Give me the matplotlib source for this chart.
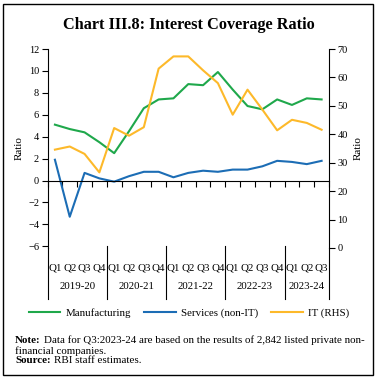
import matplotlib
matplotlib.use("Agg")
import matplotlib.pyplot as plt
from matplotlib.patches import Rectangle
from matplotlib.lines import Line2D

quarters = ["Q1", "Q2", "Q3", "Q4"] * 4 + ["Q1", "Q2", "Q3"]
years = ["2019-20", "2020-21", "2021-22", "2022-23", "2023-24"]
year_sizes = [4, 4, 4, 4, 3]

manufacturing = [5.1, 4.7, 4.4, 3.5, 2.5, 4.5, 6.6, 7.4, 7.5, 8.8, 8.7, 9.9,
                 8.3, 6.8, 6.5, 7.4, 6.9, 7.5, 7.4]
services = [1.9, -3.3, 0.7, 0.2, -0.1, 0.4, 0.8, 0.8, 0.3, 0.7, 0.9, 0.8,
            1.0, 1.0, 1.3, 1.8, 1.7, 1.5, 1.8]
it_rhs = [34.6, 35.7, 33.1, 26.6, 42.2, 39.5, 42.5, 63.1, 67.4, 67.4, 62.5, 58.0,
          46.9, 55.7, 48.7, 41.4, 45.1, 44.0, 41.6]

GREEN = "#1fa84b"
BLUE = "#1c6db5"
YELLOW = "#fdb92a"
SERIF = "Liberation Serif"

plt.rcParams["font.family"] = SERIF

fig = plt.figure(figsize=(3.78, 3.80), dpi=100)
ax = fig.add_axes([0.1257, 0.3474, 0.7447, 0.5236])
ax2 = ax.twinx()

x = list(range(len(quarters)))
ax.plot(x, manufacturing, color=GREEN, lw=1.5, label="Manufacturing")
ax.plot(x, services, color=BLUE, lw=1.5, label="Services (non-IT)")
ax2.plot(x, it_rhs, color=YELLOW, lw=1.5, label="IT (RHS)")

ax.set_xlim(-0.5, len(x) - 0.5)
ax.set_ylim(-6.15, 12)
ax2.set_ylim(0, 70)
ax.set_yticks(range(-6, 13, 2))
ax2.set_yticks(range(0, 71, 10))

for a in (ax, ax2):
    a.spines["top"].set_visible(False)
    a.tick_params(axis="y", direction="out", length=4, width=0.8, labelsize=7.5, pad=2)
ax.spines["right"].set_visible(False)
ax2.spines["left"].set_visible(False)
ax2.spines["bottom"].set_visible(False)
ax.spines["bottom"].set_position(("data", 0))
ax.set_xticks([i - 0.5 for i in range(len(x) + 1)])
ax.set_xticklabels([])
ax.tick_params(axis="x", direction="out", length=4, width=0.8)

ax.set_ylabel("Ratio", fontsize=8, labelpad=3)
ax2.set_ylabel("Ratio", fontsize=8, rotation=90, labelpad=4)

# category labels below the plot
for i, q in enumerate(quarters):
    ax.text(i, -0.10, q, transform=ax.get_xaxis_transform(), ha="center", va="center",
            fontsize=7.8, clip_on=False)
bounds = [-0.5]
for n in year_sizes:
    bounds.append(bounds[-1] + n)
for yr, a, b in zip(years, bounds[:-1], bounds[1:]):
    ax.text((a + b) / 2, -0.196, yr, transform=ax.get_xaxis_transform(), ha="center",
            va="center", fontsize=7.8, clip_on=False)
for k, b in enumerate(bounds):
    top = 0.0 if k in (0, len(bounds) - 1) else 0.01
    ax.plot([b, b], [top, -0.256], transform=ax.get_xaxis_transform(), color="black",
            lw=0.8, clip_on=False)

fig.text(0.5, 0.934, "Chart III.8: Interest Coverage Ratio", ha="center", va="center",
         fontsize=11.7, fontweight="bold")

handles = [Line2D([], [], color=GREEN, lw=1.5), Line2D([], [], color=BLUE, lw=1.5),
           Line2D([], [], color=YELLOW, lw=1.5)]
fig.legend(handles, ["Manufacturing", "Services (non-IT)", "IT (RHS)"], loc="center",
           bbox_to_anchor=(0.5, 0.176), ncol=3, frameon=False, fontsize=7.8,
           handlelength=2.9, handletextpad=0.5, columnspacing=1.2)


def bold_lead(y, lead, rest):
    t = fig.text(0.04, y, lead, fontsize=7.9, fontweight="bold", va="bottom")
    fig.add_artist(plt.Annotation(rest, xy=(1, 0), xycoords=t, xytext=(2.0, 0),
                                  textcoords="offset points", fontsize=7.9, va="bottom"))


bold_lead(0.092, "Note:", "Data for Q3:2023-24 are based on the results of 2,842 listed private non-")
fig.text(0.04, 0.064, "financial companies.", fontsize=7.9, va="bottom")
bold_lead(0.039, "Source:", "RBI staff estimates.")

fig.add_artist(Rectangle((2.5 / 378, 1 - 375 / 380), 370.5 / 378, 371 / 380,
                         transform=fig.transFigure, fill=False, lw=1.0, color="black"))

fig.savefig("out.png", dpi=100)
